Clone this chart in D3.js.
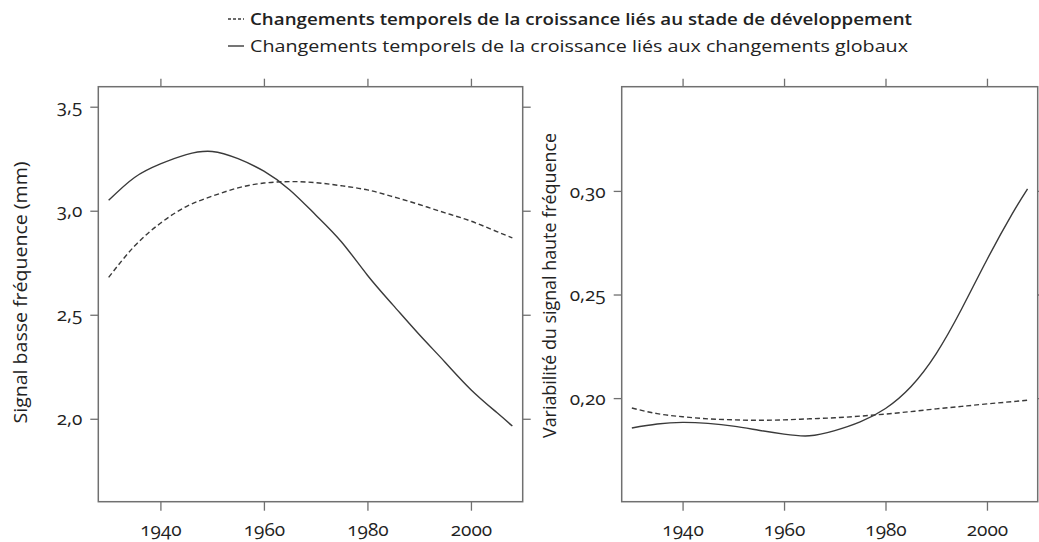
<!DOCTYPE html>
<html><head><meta charset="utf-8">
<script src="https://cdn.jsdelivr.net/npm/d3@7"></script>
<style>
body{margin:0;background:#fff;}
text{font-family:"Open Sans",Lato,sans-serif;fill:#222;font-variant-numeric:oldstyle-nums;}
</style></head><body>
<svg id="c" width="1039" height="542"></svg>
<script>
const years = [1930,1935,1940,1945,1950,1955,1960,1965,1970,1975,1980,1985,1990,1995,2000,2005,2008];
const lowDev    = [2.68,2.83,2.94,3.02,3.07,3.11,3.133,3.14,3.135,3.12,3.10,3.067,3.03,2.99,2.95,2.90,2.87];
const lowGlob   = [3.05,3.16,3.225,3.27,3.285,3.25,3.19,3.10,2.98,2.85,2.69,2.545,2.405,2.272,2.14,2.03,1.965];
const highDev   = [0.1952,0.1925,0.191,0.190,0.1895,0.1893,0.1895,0.190,0.1905,0.1913,0.1923,0.1935,0.1948,0.196,0.1972,0.1983,0.199];
const highGlob  = [0.1856,0.1875,0.1883,0.1878,0.1865,0.1845,0.1826,0.1818,0.1843,0.1885,0.1950,0.2055,0.2215,0.243,0.2668,0.289,0.301];
const xTicks = [1940,1960,1980,2000];
const yTicksLeft = [2.0,2.5,3.0,3.5];
const yTicksRight = [0.20,0.25,0.30];
const legendLabels = ["Changements temporels de la croissance liés au stade de développement",
                      "Changements temporels de la croissance liés aux changements globaux"];
const leftTitle = "Signal basse fréquence (mm)";
const rightTitle = "Variabilité du signal haute fréquence";

const svg = d3.select("#c");
const fr = d3.formatLocale({decimal:",",thousands:"",grouping:[3],currency:["",""]});
const axisCol = "#707070", lineCol = "#3a3a3a";

function panel(x0,x1,y0,y1,yDomain,yTicks,fmt,dev,glob,title,titleX,titleY,titleLen){
  const x = d3.scaleLinear().domain([1928,2010]).range([x0,x1]);
  const y = d3.scaleLinear().domain(yDomain).range([y1,y0]);
  const g = svg.append("g");
  const style = sel => { sel.select(".domain").remove();
    sel.selectAll(".tick line").attr("stroke",axisCol).attr("stroke-width",1.3);
    sel.selectAll(".tick text").style("font-size","19px").attr("fill","#222"); };
  g.append("g").attr("transform",`translate(0,${y1})`)
    .call(d3.axisBottom(x).tickValues(xTicks).tickSize(9).tickPadding(12).tickFormat(d3.format("d"))).call(style);
  g.append("g").attr("transform",`translate(0,${y0})`)
    .call(d3.axisTop(x).tickValues(xTicks).tickSize(8).tickFormat("")).call(style);
  g.append("g").attr("transform",`translate(${x0},0)`)
    .call(d3.axisLeft(y).tickValues(yTicks).tickSize(8).tickPadding(8).tickFormat(fmt)).call(style);
  g.append("g").attr("transform",`translate(${x1},0)`)
    .call(d3.axisRight(y).tickValues(yTicks).tickSize(8).tickFormat("")).call(style);
  g.append("rect").attr("x",x0).attr("y",y0).attr("width",x1-x0).attr("height",y1-y0)
    .attr("fill","none").attr("stroke",axisCol).attr("stroke-width",1.5);
  const line = vals => d3.line().x((d,i)=>x(years[i])).y(d=>y(d)).curve(d3.curveNatural)(vals);
  g.append("path").attr("d",line(dev)).attr("fill","none").attr("stroke",lineCol)
    .attr("stroke-width",1.4).attr("stroke-dasharray","5,3");
  g.append("path").attr("d",line(glob)).attr("fill","none").attr("stroke",lineCol)
    .attr("stroke-width",1.4);
  svg.append("text").attr("transform",`translate(${titleX},${titleY}) rotate(-90)`)
    .attr("text-anchor","middle").style("font-size","19px")
    .attr("textLength",titleLen).attr("lengthAdjust","spacingAndGlyphs").text(title);
}

panel(98.3,522.7,86.7,501.7,[1.6014,3.5962],yTicksLeft,fr.format(".1f"),lowDev,lowGlob,leftTitle,27,292.5,262);
panel(621.7,1037.7,86.7,501.7,[0.15,0.3503],yTicksRight,fr.format(".2f"),highDev,highGlob,rightTitle,556,285.5,305);

// legend
const lg = svg.append("g");
[[19,"3,2",600],[46,null,400]].forEach((o,i)=>{
  const l = lg.append("line").attr("x1",228).attr("x2",244).attr("y1",o[0]).attr("y2",o[0])
    .attr("stroke",lineCol).attr("stroke-width",1.4);
  if(o[1]) l.attr("stroke-dasharray",o[1]);
  lg.append("text").attr("x",250).attr("y",o[0]).attr("dy","0.35em")
    .style("font-size","17px").style("font-weight",o[2])
    .attr("textLength",i===0?662:658).attr("lengthAdjust","spacingAndGlyphs")
    .text(legendLabels[i]);
});
</script></body></html>
